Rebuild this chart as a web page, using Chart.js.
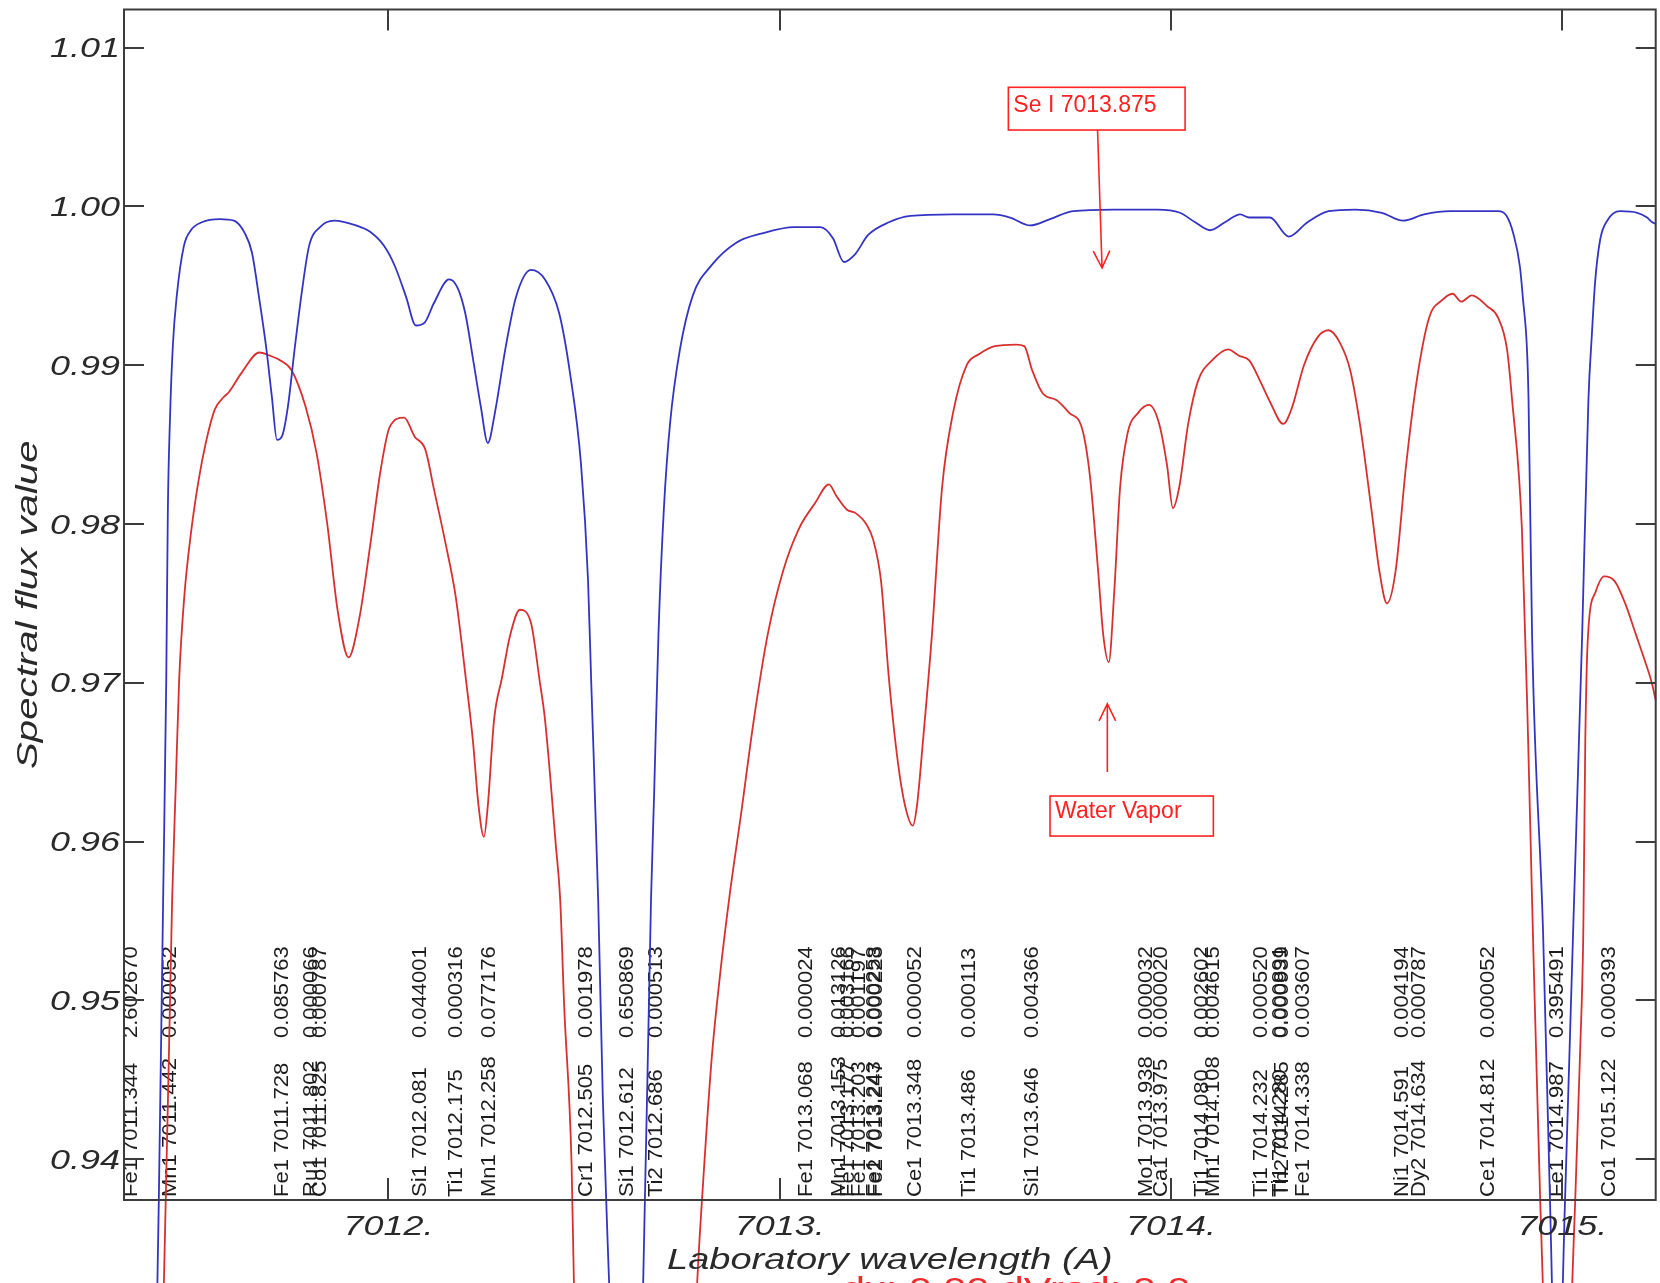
<!DOCTYPE html>
<html>
<head>
<meta charset="utf-8">
<title>Spectral flux value</title>
<script src="https://cdn.jsdelivr.net/npm/chart.js@4.4.0/dist/chart.umd.min.js"></script>
<style>
  body { margin: 0; background: #fff; }
  canvas { display: block; }
</style>
</head>
<body>
<canvas id="specChart" width="1660" height="1283"></canvas>
<script>
// synthetic spectrum (blue)
const blueWave = [
  7011.324, 7011.390, 7011.405, 7011.413, 7011.424, 7011.432, 7011.436, 7011.4415, 7011.449, 7011.459,
  7011.477, 7011.495, 7011.523, 7011.569, 7011.605, 7011.633, 7011.651, 7011.669, 7011.687, 7011.702,
  7011.715, 7011.729, 7011.743, 7011.761, 7011.779, 7011.797, 7011.825, 7011.861, 7011.917, 7011.953,
  7011.989, 7012.017, 7012.045, 7012.070, 7012.093, 7012.116, 7012.155, 7012.176, 7012.196, 7012.218,
  7012.236, 7012.254, 7012.272, 7012.300, 7012.326, 7012.364, 7012.400, 7012.436, 7012.464, 7012.492,
  7012.510, 7012.518, 7012.536, 7012.548, 7012.564, 7012.605, 7012.651, 7012.671, 7012.679, 7012.690,
  7012.704, 7012.720, 7012.745, 7012.778, 7012.826, 7012.888, 7012.955, 7013.037, 7013.104, 7013.136,
  7013.164, 7013.193, 7013.226, 7013.279, 7013.334, 7013.443, 7013.545, 7013.589, 7013.640, 7013.691,
  7013.750, 7013.852, 7013.965, 7014.023, 7014.062, 7014.100, 7014.138, 7014.177, 7014.200, 7014.253,
  7014.301, 7014.349, 7014.403, 7014.471, 7014.539, 7014.593, 7014.647, 7014.715, 7014.836, 7014.858,
  7014.875, 7014.892, 7014.900, 7014.910, 7014.914, 7014.923, 7014.951, 7014.969, 7014.987, 7015.007,
  7015.028, 7015.051, 7015.067, 7015.076, 7015.084, 7015.097, 7015.115, 7015.148, 7015.192, 7015.217,
  7015.230, 7015.239
];
const blueFlux = [
  0.8500, 0.8800, 0.9250, 0.9374, 0.9563, 0.9702, 0.9807, 0.9866, 0.9913, 0.9944,
  0.9975, 0.9985, 0.9990, 0.9992, 0.9991, 0.9983, 0.9971, 0.9943, 0.9912, 0.9880,
  0.9853, 0.9856, 0.9874, 0.9912, 0.9947, 0.9975, 0.9987, 0.9991, 0.9988, 0.9984,
  0.9975, 0.9962, 0.9943, 0.9925, 0.9927, 0.9939, 0.9954, 0.9949, 0.9933, 0.9901,
  0.9874, 0.9851, 0.9870, 0.9912, 0.9943, 0.9960, 0.9954, 0.9933, 0.9895, 0.9838,
  0.9765, 0.9702, 0.9563, 0.9437, 0.9322, 0.9050, 0.9322, 0.9563, 0.9630, 0.9730,
  0.9810, 0.9864, 0.9910, 0.9944, 0.9963, 0.9977, 0.9983, 0.9987, 0.9987, 0.9980,
  0.9965, 0.9970, 0.9982, 0.9990, 0.9994, 0.9995, 0.9995, 0.9993, 0.9988, 0.9992,
  0.9997, 0.9998, 0.9998, 0.9996, 0.9990, 0.9985, 0.9990, 0.9995, 0.9993, 0.9993,
  0.9981, 0.9990, 0.9997, 0.9998, 0.9996, 0.9991, 0.9995, 0.9997, 0.9997, 0.9994,
  0.9983, 0.9962, 0.9941, 0.9910, 0.9878, 0.9730, 0.9544, 0.9372, 0.9217, 0.9372,
  0.9544, 0.9730, 0.9878, 0.9920, 0.9952, 0.9979, 0.9991, 0.9997, 0.9996, 0.9993,
  0.9990, 0.9989
];

// observed spectrum (red)
const redWave = [
  7011.324, 7011.390, 7011.426, 7011.447, 7011.456, 7011.465, 7011.478, 7011.496, 7011.515, 7011.533,
  7011.556, 7011.579, 7011.592, 7011.624, 7011.670, 7011.697, 7011.724, 7011.752, 7011.788, 7011.816,
  7011.843, 7011.871, 7011.898, 7011.925, 7011.953, 7011.980, 7012.003, 7012.040, 7012.067, 7012.094,
  7012.117, 7012.144, 7012.172, 7012.198, 7012.216, 7012.230, 7012.244, 7012.254, 7012.270, 7012.290,
  7012.311, 7012.336, 7012.364, 7012.386, 7012.400, 7012.428, 7012.439, 7012.449, 7012.468, 7012.474,
  7012.515, 7012.745, 7012.789, 7012.807, 7012.826, 7012.847, 7012.874, 7012.901, 7012.934, 7012.969,
  7013.008, 7013.049, 7013.090, 7013.126, 7013.144, 7013.172, 7013.193, 7013.221, 7013.239, 7013.259,
  7013.279, 7013.302, 7013.320, 7013.340, 7013.351, 7013.366, 7013.389, 7013.415, 7013.443, 7013.478,
  7013.510, 7013.550, 7013.604, 7013.625, 7013.645, 7013.673, 7013.708, 7013.740, 7013.773, 7013.793,
  7013.814, 7013.827, 7013.841, 7013.855, 7013.870, 7013.889, 7013.916, 7013.944, 7013.970, 7013.990,
  7014.005, 7014.021, 7014.044, 7014.069, 7014.105, 7014.146, 7014.174, 7014.200, 7014.228, 7014.253,
  7014.287, 7014.309, 7014.340, 7014.376, 7014.403, 7014.430, 7014.458, 7014.483, 7014.512, 7014.533,
  7014.552, 7014.574, 7014.601, 7014.628, 7014.660, 7014.693, 7014.720, 7014.742, 7014.769, 7014.809,
  7014.836, 7014.859, 7014.872, 7014.897, 7014.913, 7014.923, 7014.944, 7014.987, 7015.033, 7015.046,
  7015.054, 7015.059, 7015.066, 7015.085, 7015.107, 7015.134, 7015.161, 7015.189, 7015.207, 7015.229,
  7015.239
];
const redFlux = [
  0.8600, 0.9185, 0.9322, 0.9563, 0.9633, 0.9702, 0.9754, 0.9796, 0.9828, 0.9851,
  0.9872, 0.9880, 0.9883, 0.9895, 0.9908, 0.9906, 0.9903, 0.9897, 0.9874, 0.9845,
  0.9801, 0.9744, 0.9716, 0.9740, 0.9786, 0.9834, 0.9861, 0.9867, 0.9855, 0.9847,
  0.9821, 0.9790, 0.9754, 0.9702, 0.9663, 0.9623, 0.9603, 0.9623, 0.9677, 0.9703,
  0.9730, 0.9746, 0.9738, 0.9702, 0.9677, 0.9597, 0.9563, 0.9497, 0.9397, 0.9322,
  0.9060, 0.9060, 0.9322, 0.9396, 0.9463, 0.9515, 0.9570, 0.9617, 0.9677, 0.9730,
  0.9770, 0.9797, 0.9813, 0.9825, 0.9818, 0.9809, 0.9807, 0.9800, 0.9790, 0.9764,
  0.9703, 0.9650, 0.9623, 0.9610, 0.9623, 0.9663, 0.9730, 0.9823, 0.9870, 0.9900,
  0.9907, 0.9912, 0.9913, 0.9912, 0.9897, 0.9882, 0.9878, 0.9870, 0.9860, 0.9830,
  0.9770, 0.9730, 0.9713, 0.9757, 0.9823, 0.9857, 0.9870, 0.9875, 0.9863, 0.9837,
  0.9810, 0.9823, 0.9863, 0.9890, 0.9903, 0.9910, 0.9906, 0.9903, 0.9890, 0.9877,
  0.9863, 0.9873, 0.9900, 0.9918, 0.9922, 0.9915, 0.9897, 0.9863, 0.9810, 0.9770,
  0.9750, 0.9770, 0.9837, 0.9890, 0.9930, 0.9941, 0.9945, 0.9940, 0.9944, 0.9937,
  0.9930, 0.9910, 0.9878, 0.9797, 0.9663, 0.9563, 0.9372, 0.9122, 0.9372, 0.9469,
  0.9544, 0.9663, 0.9730, 0.9757, 0.9767, 0.9764, 0.9750, 0.9730, 0.9717, 0.9700,
  0.9689
];

// line list: species, laboratory wavelength, strength
const lineSpecies = ['Fe1', 'Mn1', 'Fe1', 'Ru1', 'Co1', 'Si1', 'Ti1', 'Mn1', 'Cr1', 'Si1', 'Ti2',
  'Fe1', 'Mn1', 'Fe1', 'Fe1', 'Fe1', 'Fe2', 'Ce1', 'Ti1', 'Si1', 'Mo1', 'Ca1', 'Ti1', 'Mn1',
  'Ti1', 'Ti1', 'Th2', 'Fe1', 'Ni1', 'Dy2', 'Ce1', 'Fe1', 'Co1'];
const lineWave = [7011.344, 7011.442, 7011.728, 7011.802, 7011.825, 7012.081, 7012.175, 7012.258,
  7012.505, 7012.612, 7012.686, 7013.068, 7013.153, 7013.177, 7013.203, 7013.243, 7013.247,
  7013.348, 7013.486, 7013.646, 7013.938, 7013.975, 7014.080, 7014.108, 7014.232, 7014.280,
  7014.285, 7014.338, 7014.591, 7014.634, 7014.812, 7014.987, 7015.122];
const lineStrength = [2.602670, 0.000052, 0.085763, 0.000066, 0.000787, 0.044001, 0.000316,
  0.077176, 0.001978, 0.650869, 0.000513, 0.000024, 0.013126, 0.003166, 0.001197, 0.000258,
  0.000223, 0.000052, 0.000113, 0.004366, 0.000032, 0.000020, 0.002602, 0.004615, 0.000520,
  0.000891, 0.000939, 0.003607, 0.004194, 0.000787, 0.000052, 0.395491, 0.000393];

const xTitle = 'Laboratory wavelength (A)';
const yTitle = 'Spectral flux value';
const footText = 'dx: 0.00 dVrad: 0.0';

// callouts, placed in data coordinates (wavelength, flux)
const callouts = [
  { text: 'Se I 7013.875', box: [7013.5844, 1.00750, 7014.0361, 1.00481],
    from: [7013.8124, 1.00481], to: [7013.8239, 0.99612] },
  { text: 'Water Vapor', box: [7013.6909, 0.96287, 7014.1084, 0.96035],
    from: [7013.8374, 0.96438], to: [7013.8374, 0.96868] }
];

const FAMILY = '"Liberation Sans", Arial, sans-serif';
const RED = '#ff2222';

function wideText(ctx, text, x, y, stretch) {
  ctx.save();
  ctx.translate(x, y);
  ctx.scale(stretch, 1);
  ctx.fillText(text, 0, 0);
  ctx.restore();
}

function upText(ctx, text, x, y, stretch) {
  ctx.save();
  ctx.translate(x, y);
  ctx.rotate(-Math.PI / 2);
  ctx.scale(stretch, 1);
  ctx.fillText(text, 0, 0);
  ctx.restore();
}

function arrow(ctx, x0, y0, x1, y1) {
  const ang = Math.atan2(y1 - y0, x1 - x0);
  const len = 19, spread = 0.45;
  ctx.beginPath();
  ctx.moveTo(x0, y0);
  ctx.lineTo(x1, y1);
  ctx.moveTo(x1 - len * Math.cos(ang - spread), y1 - len * Math.sin(ang - spread));
  ctx.lineTo(x1, y1);
  ctx.lineTo(x1 - len * Math.cos(ang + spread), y1 - len * Math.sin(ang + spread));
  ctx.stroke();
}

const spectrumDecor = {
  id: 'spectrumDecor',
  beforeDatasetsDraw(chart) {
    const { ctx, chartArea: a, scales: { x } } = chart;
    ctx.save();
    // identifications written upward from the bottom axis
    ctx.fillStyle = '#1c1c1c';
    ctx.font = '20px ' + FAMILY;
    ctx.textAlign = 'left';
    ctx.textBaseline = 'middle';
    lineWave.forEach((w, i) => {
      const px = x.getPixelForValue(w);
      upText(ctx, lineSpecies[i] + ' ' + w.toFixed(3), px, a.bottom - 3, 1.1);
      upText(ctx, lineStrength[i].toFixed(6), px, a.bottom - 162, 1.1);
    });
    ctx.restore();
  },
  afterDatasetsDraw(chart) {
    const { ctx, chartArea: a, scales: { x, y } } = chart;
    ctx.save();

    // frame with inward ticks
    ctx.strokeStyle = '#3c3c3c';
    ctx.lineWidth = 2;
    ctx.strokeRect(a.left, a.top, a.right - a.left, a.bottom - a.top);
    ctx.beginPath();
    y.ticks.forEach(t => {
      const py = Math.round(y.getPixelForValue(t.value));
      ctx.moveTo(a.left, py); ctx.lineTo(a.left + 20, py);
      ctx.moveTo(a.right, py); ctx.lineTo(a.right - 20, py);
    });
    x.ticks.forEach(t => {
      const px = Math.round(x.getPixelForValue(t.value));
      ctx.moveTo(px, a.top); ctx.lineTo(px, a.top + 21);
      ctx.moveTo(px, a.bottom); ctx.lineTo(px, a.bottom - 22);
    });
    ctx.stroke();

    // tick labels
    ctx.fillStyle = '#2a2a2a';
    ctx.font = 'italic 27px ' + FAMILY;
    ctx.textBaseline = 'alphabetic';
    ctx.textAlign = 'right';
    y.ticks.forEach(t => {
      wideText(ctx, t.value.toFixed(2), a.left - 4, y.getPixelForValue(t.value) + 9.7, 1.33);
    });
    ctx.textAlign = 'center';
    x.ticks.forEach(t => {
      wideText(ctx, t.value + '.', x.getPixelForValue(t.value), a.bottom + 35, 1.33);
    });

    // axis titles
    ctx.font = 'italic 29px ' + FAMILY;
    wideText(ctx, xTitle, (a.left + a.right) / 2, a.bottom + 69, 1.31);
    ctx.font = 'italic 30px ' + FAMILY;
    ctx.textBaseline = 'middle';
    upText(ctx, yTitle, 29, (a.top + a.bottom) / 2, 1.34);

    // callouts
    ctx.strokeStyle = RED;
    ctx.fillStyle = RED;
    ctx.lineWidth = 1.6;
    ctx.font = '23px ' + FAMILY;
    ctx.textAlign = 'left';
    ctx.textBaseline = 'alphabetic';
    callouts.forEach(c => {
      const x0 = x.getPixelForValue(c.box[0]), y0 = y.getPixelForValue(c.box[1]);
      const x1 = x.getPixelForValue(c.box[2]), y1 = y.getPixelForValue(c.box[3]);
      ctx.strokeRect(x0, y0, x1 - x0, y1 - y0);
      ctx.fillText(c.text, x0 + 5, y1 - 18.5);
      arrow(ctx, x.getPixelForValue(c.from[0]), y.getPixelForValue(c.from[1]),
        x.getPixelForValue(c.to[0]), y.getPixelForValue(c.to[1]));
    });

    // cursor readout, cut by the bottom edge
    ctx.font = '30px ' + FAMILY;
    ctx.fillStyle = '#ee2a2a';
    wideText(ctx, footText, 842, a.bottom + 98, 1.38);

    ctx.restore();
  }
};

Chart.defaults.font.family = FAMILY;

const makePoints = (ws, fs) => ws.map((w, i) => ({ x: w, y: fs[i] }));

const lineStyle = {
  borderWidth: 1.8,
  pointRadius: 0,
  cubicInterpolationMode: 'monotone',
  clip: false
};

new Chart(document.getElementById('specChart'), {
  type: 'line',
  data: {
    datasets: [
      Object.assign({ label: 'synthetic', data: makePoints(blueWave, blueFlux), borderColor: '#3434c4' }, lineStyle),
      Object.assign({ label: 'observed', data: makePoints(redWave, redFlux), borderColor: '#d83030' }, lineStyle)
    ]
  },
  options: {
    responsive: false,
    animation: false,
    devicePixelRatio: 1,
    layout: { padding: { top: 9.5, right: 4.3, left: 0, bottom: 0 } },
    plugins: { legend: { display: false }, tooltip: { enabled: false } },
    scales: {
      x: {
        type: 'linear',
        min: 7011.324,
        max: 7015.239,
        grid: { display: false },
        border: { display: false },
        ticks: { display: false, stepSize: 1, includeBounds: false },
        afterFit(scale) { scale.height = 83; }
      },
      y: {
        type: 'linear',
        min: 0.93743,
        max: 1.0124,
        grid: { display: false },
        border: { display: false },
        ticks: { display: false, stepSize: 0.01, includeBounds: false },
        afterFit(scale) { scale.width = 124; }
      }
    }
  },
  plugins: [spectrumDecor]
});
</script>
</body>
</html>
